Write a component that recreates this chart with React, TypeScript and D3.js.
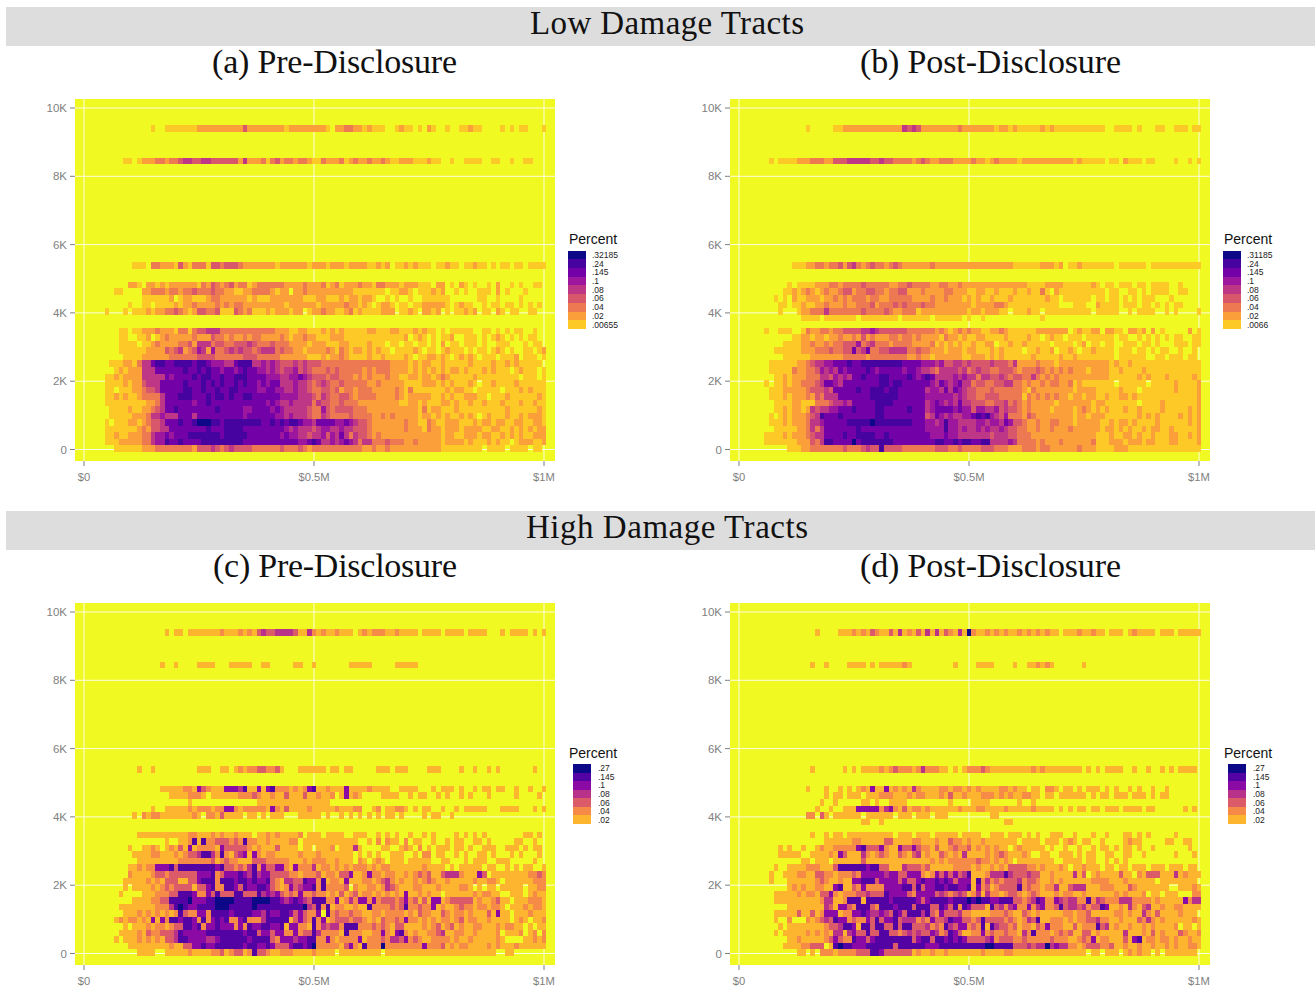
import React from "react";
import * as d3 from "d3";

// sq-ft bin index of each data row, top to bottom
const rowBins = [49,44,28,25,24,23,22,21,20,18,17,16,15,14,13,12,11,10,9,8,7,6,5,4,3,2,1,0];
const priceBinWidth = 10000;
const sqftBinWidth = 191.5;
const sqftBinOrigin = -73;

// Each string: 100 price bins ($10K to $1M); digit = legend class (0 = empty)
const lowPre = [
"0000000000 0000100111 1111222222 2222422222 2221222222 2210223322 1211100121 1010210010 0112110000 1010110001",
"0000000011 0122233233 4554455444 4442522231 3423323321 1322231232 2322321122 2111211001 0011110011 0010011000",
"0000000000 1110332221 4213331443 4443222222 2122222212 2212221222 2112120112 1211101121 1011211010 1101101111",
"0000000002 2102212122 2222132432 3423312333 3332222322 2312312223 2213322212 2211102201 0210100102 0010100110",
"0000001100 0022333233 2334333433 2211223333 2122022322 2222222211 1111101122 1011121200 1010011102 0100010000",
"0000000000 0011111120 1221112332 2222212111 2222222111 2211121221 2210010100 1001111110 0000011001 0000100000",
"0000000001 0011011112 1223222232 3233222222 2221222222 1222223221 2101221011 0112222210 1211001011 0110101010",
"0000100010 1112122334 3212443341 1143231112 1222122012 2322112312 1111222011 2102212010 1121201102 1011001100",
"0000000000 0000000000 0000000000 0000000000 0000000000 0000000000 0000000000 0000000000 0000000000 0000000000",
"0000000110 1122232221 3313445553 3333333333 3222112211 1212121111 1221112211 1212110101 1111001101 0101100100",
"0000000110 0112012322 2223222433 2322323322 2232122322 1112221111 1111111112 0121010112 0011101012 1010101100",
"0000000111 1011232222 3342555344 3344454333 4333222212 2211122111 1211101101 1011010201 1011101001 1100010110",
"0000000111 1112222434 5234652633 4545443455 5343322122 2232132122 1212110111 1210110121 1101011012 1010011012",
"0000000011 1122222233 3333444433 3333444333 3322222211 1212232111 1211211112 1011221210 1212101110 1112011101",
"0000011122 1355788778 8887887666 5578885565 6544454544 4333333333 3333332222 1212211211 1112111121 1212111110",
"0000001212 2255577777 7877878776 7767877665 6545564543 3343433333 2323332222 1212121212 2121112121 1101211101",
"0000112122 2255555767 7778788778 7788877776 6655667654 4434433323 2322232211 2212212321 1111211111 1111011101",
"0000111121 2245557777 7877787878 7787877676 7755565543 4543343333 3223222221 1112221212 1112101121 1112111111",
"0000110111 2234457777 7887787787 7887777667 7665565543 3443423323 3322222321 3111111121 2211011111 0111212111",
"0000112121 1233335777 8887778788 7877887777 7766665554 3543344323 3332222321 2222211212 1122211011 1211111121",
"0000111111 1112235777 7776778777 7777777776 7655655553 5443343332 2222222211 2212111221 2112112111 2111211211",
"0000011112 1122345778 7777777787 7777667777 6765555543 3643444433 3222222222 2213122111 2111111111 1211111121",
"0000011111 2223556555 7775777777 7777677777 7665655543 3543333433 3322323222 2212212121 1212101211 1211212221",
"0000101112 2123445777 8778999887 8888888877 8787887665 7777667654 4322222223 2211321122 2111212212 2112211221",
"0000111111 1232445577 7777778777 8888777777 7776565554 5665565544 4322222223 2221322122 2122221122 1121212122",
"0000112112 2233566767 7788888887 8888877777 7767665545 5646575354 4323222222 2222222122 1122212211 2121211222",
"0000111222 2233566877 8777788888 8888777777 7777776678 7556567653 5533343332 2322222122 2212111212 1101222112",
"0000001111 1122233333 3332444543 4544443333 3343334323 3333333333 2232232222 2222222111 1111110111 1011110110",
];

const lowPost = [
"0000000000 0000100000 1122222222 2222254542 2222222322 2222212212 1111121211 1111111110 0111101000 1100111011",
"0000001011 1122233322 4445555544 5443333234 3223332222 3221232222 1222222222 2212111110 1102111011 0000100101",
"0000000000 0111223323 3424532343 3234322222 2322222222 2222222221 1111122212 0112111111 1011111101 1111111111",
"0000000000 1011112223 3233334333 3322334333 3223322322 2222222222 2211112222 1111112101 1011101101 1110010000",
"0000000001 1212321232 2344233443 3233442223 2222332221 1221121112 1121131021 1111111110 1100110101 1110011000",
"0000000101 0211222122 3232333233 2233333222 2322322212 1211211121 1111112110 1111110110 1101010111 0001000000",
"0000000011 0112112232 2232233342 3334343334 3322222222 1222233211 1111111110 0011100211 1101110110 1010110000",
"0000000010 0012233353 3333334333 3432233312 2222222221 2212221101 1121101111 1111110111 1100101111 0010100001",
"0000000000 0001111011 1111101111 1111011111 1011111101 0010000000 0000010000 0000000000 0000000000 0000000000",
"0000010011 1001322332 3344445565 4444443333 3323212323 2211223211 1111222222 2012112202 2110221202 0100000201",
"0000000000 0112212212 2322324232 2233233232 2221322121 1221111211 1121101211 0111011111 1011001010 1010110011",
"0000000001 1112232232 3344463453 3323333222 2312121211 2112201121 1211111011 1101201101 1001110110 1000111011",
"0000000111 1112223334 3344745733 4455553343 3222122212 2111212111 1011211201 1210112111 1011101101 0110010010",
"0000000001 1111122222 2233333233 3333332232 2122222211 2221212111 1112111112 1121111111 1011111100 1101110110",
"0000001111 1122345566 7778778888 8888877776 6656445545 4444544435 2222322212 2222222222 1211211111 1111111111",
"0000001111 1322334656 5767777876 7777767765 5435555453 4544334443 2333432323 2322212222 1121111211 1111111111",
"0000000112 1222333554 6565778777 8877778767 8755556565 5355445434 4335323232 2222222222 1111112121 1121111121",
"0000010112 1223334577 6577777777 8878877777 7657656755 3443344553 3232232332 2312111111 1011111101 1111211112",
"0000001112 2222344454 7777787788 8788777777 5665757654 4333433333 3213222222 2212222111 1121110111 1111211112",
"0000001112 1222324355 5777777788 8888777777 6666665654 4334443333 3132323232 2122122112 1122121111 1111111112",
"0000000111 1221113334 5565777778 8887777777 5676565755 4443344534 3232222212 2222221221 1111110111 1211111112",
"0000000112 1221254556 6777877778 8777778777 5677776766 4665564544 3232222122 2212321212 1112112111 1211111212",
"0000001012 1222345877 7877777778 8777777777 4576565566 7878654633 3243222222 2212212221 1111112121 2111121212",
"0000001112 1222355677 7778888898 8888888777 6656866555 5665665764 4322322332 2212222211 2122121111 2111111212",
"0000000111 1122353577 7777787777 7777777777 6666866565 5656556544 3322322322 2322222212 2121211212 2112111112",
"0000011112 1222345577 7787788887 7877777777 7666766555 5555455544 3332222222 2222222111 2112212112 1112211212",
"0000011111 1122243588 7777978888 8887777777 7788778788 7788555565 3333232223 2222223111 2221222122 1112211112",
"0000000000 1112233333 3343334544 8444433333 3344433433 3344433322 2333233222 2223222111 1222111111 1111111111",
];

const highPre = [
"0000000000 0000000101 1011111112 1112121343 3444431142 1211211101 2122211211 1101111011 1101111000 1011110101",
"0000000000 0000001001 0000111100 0111110011 0000011001 0000000111 1100000111 1100000000 0000000000 0000000000",
"0000000000 0100100000 0000111001 1012122332 2310001111 1101101100 0001110111 0000111000 0100100101 0000000100",
"0000000000 0000001111 1221532111 5554611515 6222121256 1121115111 1211110011 1100010111 0100101101 1001001001",
"0000000000 0000000011 1122210111 1112223211 2113111311 2112015121 0000111100 1011001010 0101000100 0001000010",
"0000000000 0000000000 0010000000 0000000111 1111111111 1110000000 0000000000 0000000000 0000000000 0000000000",
"0000000000 0000100111 1121222122 5521222221 5213111121 1111211122 0012011221 0101100100 1011111000 1111000101",
"0000000000 1021221111 1112102213 1111011010 1110001111 1010010101 0101011010 0001011001 0000000000 0000000000",
"0000000000 0000000000 0000000000 0000000000 0000000000 0000000000 0000000000 0000000000 0000000000 0000000000",
"0000000000 0111111111 1122111212 1121110112 1211112011 1011110011 1001010100 1001010000 1010101000 0000011010",
"0000000000 0000000100 1126162233 3232622112 1111220111 1111111110 0102021102 0110010010 1100110100 0001100100",
"0000000001 0011210121 3151222215 3333321211 1311110110 1112011141 0000110012 1020101110 1101001110 0111010110",
"0000000000 1111221112 1233466426 2134515212 2111112111 2111111101 0101001110 0102201100 1010011010 0010100010",
"0000000000 0111111111 2222222312 3221113332 2222111212 2211211102 1012101110 1111100110 0010111001 1100000100",
"0000000001 1212255563 6666666656 3323246253 3552152224 1221212122 2121221111 1112111101 0111110110 0101011001",
"0000000002 1111233233 3333555623 5556546455 3333221222 3122133511 2522122112 1232311344 4211153011 1111112232",
"0000000011 1112121333 1133566626 6656656556 3214433655 2612215111 2212342121 1212321121 1111211221 0111111222",
"0000000010 1111212323 3331335622 6653655665 3212534556 2622223021 1221243211 1221112111 1221010110 1111101122",
"0000000100 0011122233 6665225363 3366333645 4532325223 2212131231 2212121215 1121211011 1111212211 0011101211",
"0000000000 1111223366 6675556677 7766667777 6654565436 6622512425 5252333235 2313155123 3333121123 1101112221",
"0000000111 1111122246 7655666677 7666667666 6666666743 6261221121 1622223236 2232251211 2322122122 1011121221",
"0000000011 1212121212 6322552666 6566665546 5566535322 5062322322 1122122221 2132211321 2212111315 1101112111",
"0000001212 2121515266 5665262565 6225622246 6666135326 2512333233 2121322325 2212121221 2312211211 1101210112",
"0000000010 1112122123 3665625565 5525265566 5561552216 2434426662 2232321331 1112123123 1211221112 1221101011",
"0000000111 1213223334 6555556666 6666566355 3552252336 4222216222 1122521562 1211223411 2211211112 0111201202",
"0000001011 1212121334 6655554456 6666656666 3255545566 2252122225 1222324435 2321122221 2112111112 1000011212",
"0000000001 1111111121 1335565566 6666566556 5333566567 2222213521 6222722222 2225222312 1221111212 1112111111",
"0000000000 0111100111 1121111223 1233126332 1122211112 1111011111 1111011111 1111111111 1111111110 0110000000",
];

const highPost = [
"0000000000 0000001000 0111212132 1131412131 4141321417 2112121211 2121212110 1112112110 1110121111 0111011111",
"0000000000 0000010010 0001111010 1111121000 0000001000 0111100001 0011212100 0000100000 0000000000 0000000000",
"0000000000 0000010000 0010101111 2123222124 2221101012 2232111111 1112121111 1111010101 1110010010 0101011110",
"0000000000 0000100010 0101012151 1512121421 1112212212 1211112212 1101102210 1101011101 0100101001 0010000000",
"0000000000 0000000010 1101110111 2221112122 1112131121 1122212121 1221101101 1111101011 0111011101 0110000000",
"0000000000 0000000100 1000001101 0011110000 0000010000 1111000000 1001000000 0000000000 0000000000 0000000000",
"0000000000 0000001001 0011155555 2452131221 2111111211 1221111211 1112111101 0101101101 1101111011 0000001010",
"0000000000 0000220310 1111110111 1110111011 1011100000 0000110000 0000000000 0000000000 0000000000 0000000000",
"0000000000 0000000000 0000001100 1000000000 0000000000 0000000110 0000000000 0000000000 0000000000 0000000000",
"0000000000 0000010010 1101111111 1110111011 1011111011 1100111011 1010100111 0010001001 0001101010 0000100000",
"0000000000 0000000011 1111221111 1331111221 1121132212 1121111111 0111101110 1210110010 0001211000 0011001100",
"0000000010 1001001211 2222256333 5211533532 2131123223 1212121101 2111110100 1001001011 0101101001 0000000100",
"0000000011 1110011112 1531114212 3211321341 2113212141 1112123211 1210011001 1101011001 1001100100 0000100010",
"0000000000 0001101110 1111113111 1111111111 1212122222 2322121210 1111111100 1111011001 0101000000 0000000000",
"0000000100 1111222111 3666666566 3311143332 3111112222 1211212133 3322121112 1011211101 1011011101 1101110110",
"0000001001 1122113322 1222325555 5455335552 1253535346 1112444643 3343311211 1141301211 1131102133 3111412111",
"0000001000 1111112321 1211556663 5555353356 5565653555 1624232333 4233211212 1111112222 1112111111 0111111110",
"0000000000 1212112211 5611325222 2555566363 5566566556 1523123333 6232212241 1344411122 2111321111 1110011121",
"0000000111 1121221335 2122233433 3655553255 5534323431 2414221233 2123211121 2211211111 1212111201 1011100022",
"0000000111 1111111244 1126661666 6656666653 5666656667 6766556663 3234652254 3442262432 2244422221 2111115244",
"0000000000 1111111143 1553266632 6665666366 6336536265 3331634245 2252452236 3443423365 1121421341 1211221111",
"0000000111 1131131255 5122556544 5436536664 6325333422 1111222321 1321211111 2212231111 1221211421 3111121110",
"0000000100 2000212343 6552322536 3556344423 2533465533 2363333232 1243611222 1212233422 1121113242 1211111121",
"0000000010 1111111123 3466516636 6336366333 4232643552 3261643323 1221325222 1131222634 1211211212 1111201101",
"0000000101 1111212121 4414533633 6633234343 3542365311 2252322322 1426222123 2311331211 1114111213 1211132112",
"0000000000 1121111123 5322655356 6666666356 6366565653 3334523332 2322222322 2112325122 1113156122 1221211211",
"0000000001 1112233301 6766555666 6663666666 5556666666 6667766663 3343447454 4221233322 3112112112 1121211221",
"0000000000 0011010222 1222233366 5333333121 1211211111 1121111221 1111111111 1111101101 1101212110 1011111110",
];

// Legend labels for each panel
const lowPreLabels = [".32185",".24",".145",".1",".08",".06",".04",".02",".00655"];
const lowPostLabels = [".31185",".24",".145",".1",".08",".06",".04",".02",".0066"];
const highLabels = [".27",".145",".1",".08",".06",".04",".02"];

const yTickValues = [0,2000,4000,6000,8000,10000];
const yTickLabels = ["0","2K","4K","6K","8K","10K"];
const xTickValues = [0,500000,1000000];
const xTickLabels = ["$0","$0.5M","$1M"];

const nineClassColors = ["#FDC926","#FB9F3A","#ED7953","#D8576B","#BD3786","#9C179E","#7201A8","#46039F","#0D0887"];
const sevenClassColors = ["#FDB42F","#F58B47","#DB5C68","#B93289","#8B0AA5","#5302A3","#0D0887"];

const PW = 480, PH = 362;
const xs = d3.scaleLinear().domain([0,1000000]).range([9,469]);
const ys = d3.scaleLinear().domain([0,10000]).range([350.5,9]);
const SANS = "'Liberation Sans', Arial, sans-serif";
const SERIF = "'Liberation Serif', 'Times New Roman', serif";

function Panel({x, y, rows, colors, labels, legX, legBoxX, legLabelX, legTop, legBottom, legTitleY}: any) {
  const cells: any[] = [];
  rows.forEach((r: string, ri: number) => {
    const s = r.replace(/\s/g, "");
    const bin = rowBins[ri];
    const lo = sqftBinOrigin + bin * sqftBinWidth;
    const top = ys(lo + sqftBinWidth), h = ys(lo) - top;
    for (let k = 0; k < s.length && k < 100; k++) {
      const lv = +s[k];
      if (!lv) continue;
      const cx = xs((k + 1) * priceBinWidth);
      const w = xs(priceBinWidth) - xs(0);
      cells.push(<rect key={ri + "-" + k} x={cx - w / 2} y={top} width={w} height={h} fill={colors[lv - 1]} shapeRendering="crispEdges" />);
    }
  });
  const legendColors = [...colors].reverse();
  const bh = (legBottom - legTop) / labels.length;
  return (
    <g transform={`translate(${x},${y})`}>
      <rect width={PW} height={PH} fill="#F0F921" />
      {yTickValues.map(v => <line key={v} x1={0} x2={PW} y1={ys(v)} y2={ys(v)} stroke="#FDFDE4" strokeWidth={1} />)}
      {xTickValues.map(v => <line key={v} y1={0} y2={PH} x1={xs(v)} x2={xs(v)} stroke="#FDFDE4" strokeWidth={1} />)}
      {cells}
      {yTickValues.map((v, i) => (
        <g key={v}>
          <line x1={-5} x2={0} y1={ys(v)} y2={ys(v)} stroke="#7f7f7f" />
          <text x={-8} y={ys(v) + 4} textAnchor="end" fontFamily={SANS} fontSize={11.5} fill="#7f7f7f">{yTickLabels[i]}</text>
        </g>
      ))}
      {xTickValues.map((v, i) => (
        <g key={v}>
          <line y1={PH} y2={PH + 5} x1={xs(v)} x2={xs(v)} stroke="#7f7f7f" />
          <text x={xs(v)} y={PH + 20} textAnchor="middle" fontFamily={SANS} fontSize={11.2} fill="#7f7f7f">{xTickLabels[i]}</text>
        </g>
      ))}
      <text x={legX - x} y={legTitleY - y} fontFamily={SANS} fontSize={14} fill="#111">Percent</text>
      {legendColors.map((c: string, i: number) => (
        <rect key={i} x={legBoxX - x} y={legTop - y + i * bh} width={17.5} height={bh} fill={c} shapeRendering="crispEdges" />
      ))}
      {labels.map((l: string, i: number) => (
        <text key={l} x={legLabelX - x} y={legTop - y + (i + 0.5) * bh + 3} fontFamily={SANS} fontSize={8.5} fill="#222">{l}</text>
      ))}
    </g>
  );
}

const Title = ({x, y, w, size, children}: any) => (
  <text x={x} y={y} textLength={w} lengthAdjust="spacing" fontFamily={SERIF} fontSize={size} fill="#111">{children}</text>
);

export default function App() {
  return (
    <svg width={1315} height={990} style={{position: "absolute", left: 0, top: 0, display: "block", background: "#fff"}}>
      <rect x={6} y={7} width={1309} height={39} fill="#DDDDDD" />
      <rect x={6} y={511} width={1309} height={39} fill="#DDDDDD" />
      <Title x={530} y={34} w={274} size={33}>Low Damage Tracts</Title>
      <Title x={526} y={538} w={282} size={33}>High Damage Tracts</Title>
      <Title x={212} y={73} w={245} size={34}>(a) Pre-Disclosure</Title>
      <Title x={860} y={73} w={261} size={34}>(b) Post-Disclosure</Title>
      <Title x={213} y={577} w={244} size={34}>(c) Pre-Disclosure</Title>
      <Title x={860} y={577} w={261} size={34}>(d) Post-Disclosure</Title>
      <Panel x={75} y={99} rows={lowPre} colors={nineClassColors} labels={lowPreLabels} legX={569} legBoxX={568} legLabelX={592} legTop={250.5} legBottom={329} legTitleY={244} />
      <Panel x={730} y={99} rows={lowPost} colors={nineClassColors} labels={lowPostLabels} legX={1224} legBoxX={1223} legLabelX={1247} legTop={250.5} legBottom={329} legTitleY={244} />
      <Panel x={75} y={603} rows={highPre} colors={sevenClassColors} labels={highLabels} legX={569} legBoxX={573} legLabelX={598} legTop={764} legBottom={824} legTitleY={758} />
      <Panel x={730} y={603} rows={highPost} colors={sevenClassColors} labels={highLabels} legX={1224} legBoxX={1228} legLabelX={1253} legTop={764} legBottom={824} legTitleY={758} />
    </svg>
  );
}
